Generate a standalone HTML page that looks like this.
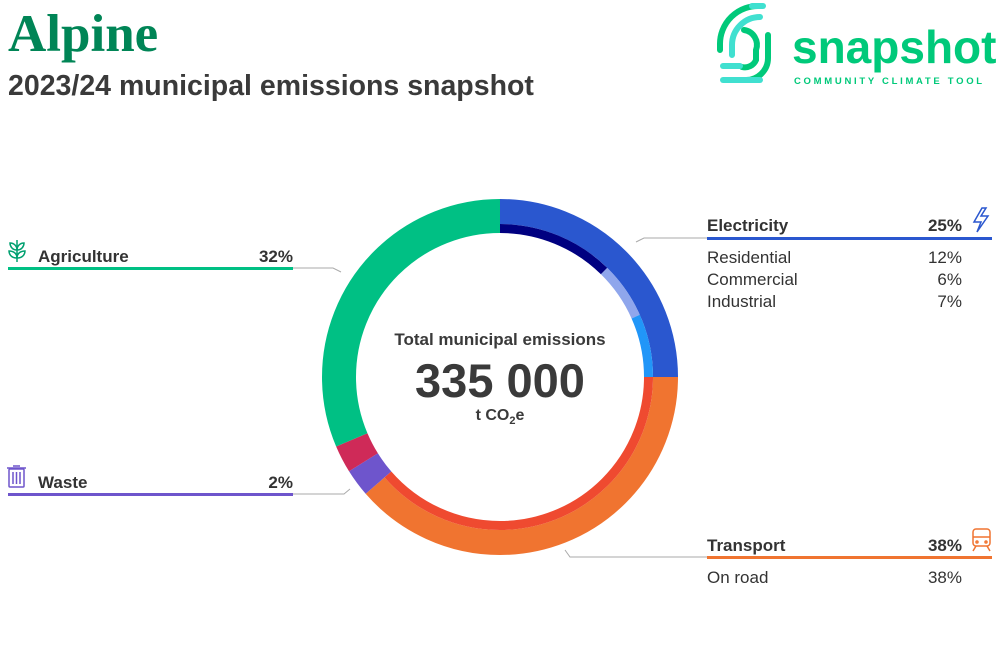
<!DOCTYPE html>
<html><head><meta charset="utf-8"><style>
body{margin:0;width:1000px;height:670px;background:#fff;position:relative;overflow:hidden;font-family:"Liberation Sans",sans-serif;color:#333}
.a{position:absolute}
</style></head><body>
<div class="a" style="left:8px;top:4px;font-family:'Liberation Serif',serif;font-weight:bold;font-size:53px;color:#008556;letter-spacing:0px">Alpine</div>
<div class="a" style="left:8px;top:70px;font-size:28.5px;font-weight:bold;color:#3a3a3a">2023/24 municipal emissions snapshot</div>

<svg class="a" style="left:0;top:0" width="1000" height="670">
<g fill="none" stroke-linecap="round" stroke-width="6">
<path d="M760 6 A38 38 0 0 0 720 45 L720 50" stroke="#00c97a"/>
<path d="M752 6 L763 6" stroke="#40e0d0"/>
<path d="M760 17 A28 28 0 0 0 732 45 L732 55" stroke="#40e0d0"/>
<path d="M744 30 A15 15 0 0 1 756 50 L756 60 A12 12 0 0 1 742 67" stroke="#00c97a"/>
<path d="M768 35 L768 58 A22 22 0 0 1 745 80" stroke="#00c97a"/>
<path d="M723 80 L760 80" stroke="#40e0d0"/>
<path d="M723 66 L740 66" stroke="#40e0d0"/>
</g>
<text x="792" y="63" font-size="46" font-weight="bold" fill="#00c97a" font-family="Liberation Sans">snapshot</text>
<text x="794" y="84" font-size="9.5" font-weight="bold" fill="#00c97a" letter-spacing="2.7">COMMUNITY CLIMATE TOOL</text>

<g transform="translate(500 377) rotate(-90)" fill="none">
<circle r="165.5" stroke="#2a57cf" stroke-width="25" pathLength="360" stroke-dasharray="90 270" stroke-dashoffset="0"/>
<circle r="165.5" stroke="#f07430" stroke-width="25" pathLength="360" stroke-dasharray="139 221" stroke-dashoffset="-90"/>
<circle r="161" stroke="#6e55cc" stroke-width="34" pathLength="360" stroke-dasharray="9 351" stroke-dashoffset="-229"/>
<circle r="161" stroke="#cf2a58" stroke-width="34" pathLength="360" stroke-dasharray="9 351" stroke-dashoffset="-238"/>
<circle r="161" stroke="#00c084" stroke-width="34" pathLength="360" stroke-dasharray="113 247" stroke-dashoffset="-247"/>
<circle r="148.5" stroke="#000080" stroke-width="9" pathLength="360" stroke-dasharray="44.5 315.5" stroke-dashoffset="0"/>
<circle r="148.5" stroke="#8fa6ec" stroke-width="9" pathLength="360" stroke-dasharray="21.5 338.5" stroke-dashoffset="-44.5"/>
<circle r="148.5" stroke="#2196f8" stroke-width="9" pathLength="360" stroke-dasharray="24 336" stroke-dashoffset="-66"/>
<circle r="148.5" stroke="#ef4a30" stroke-width="9" pathLength="360" stroke-dasharray="139 221" stroke-dashoffset="-90"/>
</g>
<text x="500" y="345" text-anchor="middle" font-size="17" font-weight="bold" fill="#3a3a3a">Total municipal emissions</text>
<text x="500" y="397" text-anchor="middle" font-size="47" font-weight="bold" fill="#3a3a3a">335 000</text>
<text x="500" y="420" text-anchor="middle" font-size="16" font-weight="bold" fill="#3a3a3a">t CO<tspan font-size="11" dy="4">2</tspan><tspan dy="-4">e</tspan></text>

<g fill="none" stroke="#aaa" stroke-width="1">
<polyline points="293,268 333,268 341,272"/>
<polyline points="636,242 644,238 707,238"/>
<polyline points="293,494 344,494 350,489"/>
<polyline points="565,550 570,557 707,557"/>
</g>
<rect x="8" y="267" width="285" height="3" fill="#00c084"/>
<rect x="8" y="493" width="285" height="3" fill="#6e55cc"/>
<rect x="707" y="237" width="285" height="3" fill="#2a57cf"/>
<rect x="707" y="556" width="285" height="3" fill="#f07430"/>

<g font-size="17" font-weight="bold" fill="#333">
<text x="38" y="262">Agriculture</text><text x="293" y="262" text-anchor="end">32%</text>
<text x="38" y="488">Waste</text><text x="293" y="488" text-anchor="end">2%</text>
<text x="707" y="231">Electricity</text><text x="962" y="231" text-anchor="end">25%</text>
<text x="707" y="551">Transport</text><text x="962" y="551" text-anchor="end">38%</text>
</g>
<g font-size="17" fill="#333">
<text x="707" y="263">Residential</text><text x="962" y="263" text-anchor="end">12%</text>
<text x="707" y="285">Commercial</text><text x="962" y="285" text-anchor="end">6%</text>
<text x="707" y="307">Industrial</text><text x="962" y="307" text-anchor="end">7%</text>
<text x="707" y="583">On road</text><text x="962" y="583" text-anchor="end">38%</text>
</g>

<g fill="none" stroke="#00a070" stroke-width="1.5">
<path d="M17 262 L17 240"/><path d="M17 258 C11 258 9 254 9 251 C13 251 17 253 17 258 C17 253 21 251 25 251 C25 254 23 258 17 258"/>
<path d="M17 250 C12 250 10 246 10 243 C14 243 17 246 17 250 C17 246 20 243 24 243 C24 246 22 250 17 250"/>
</g>
<g fill="none" stroke="#6e55cc" stroke-width="1.5">
<rect x="9" y="469" width="15" height="18" rx="1"/><path d="M7 468 L26 468 M13 466 L20 466 M13 472 L13 484 M16.5 472 L16.5 484 M20 472 L20 484"/>
</g>
<path d="M982 208 L974 222 L981 222 L977 232 L988 216 L981 216 L986 208 Z" fill="none" stroke="#2a57cf" stroke-width="1.5"/>
<g fill="none" stroke="#f07430" stroke-width="1.5">
<rect x="973" y="529" width="17" height="17" rx="3"/><path d="M973 537 L990 537 M976 546 L973 551 M987 546 L990 551"/>
<circle cx="977" cy="542" r="1"/><circle cx="986" cy="542" r="1"/>
</g>
</svg>
</body></html>
